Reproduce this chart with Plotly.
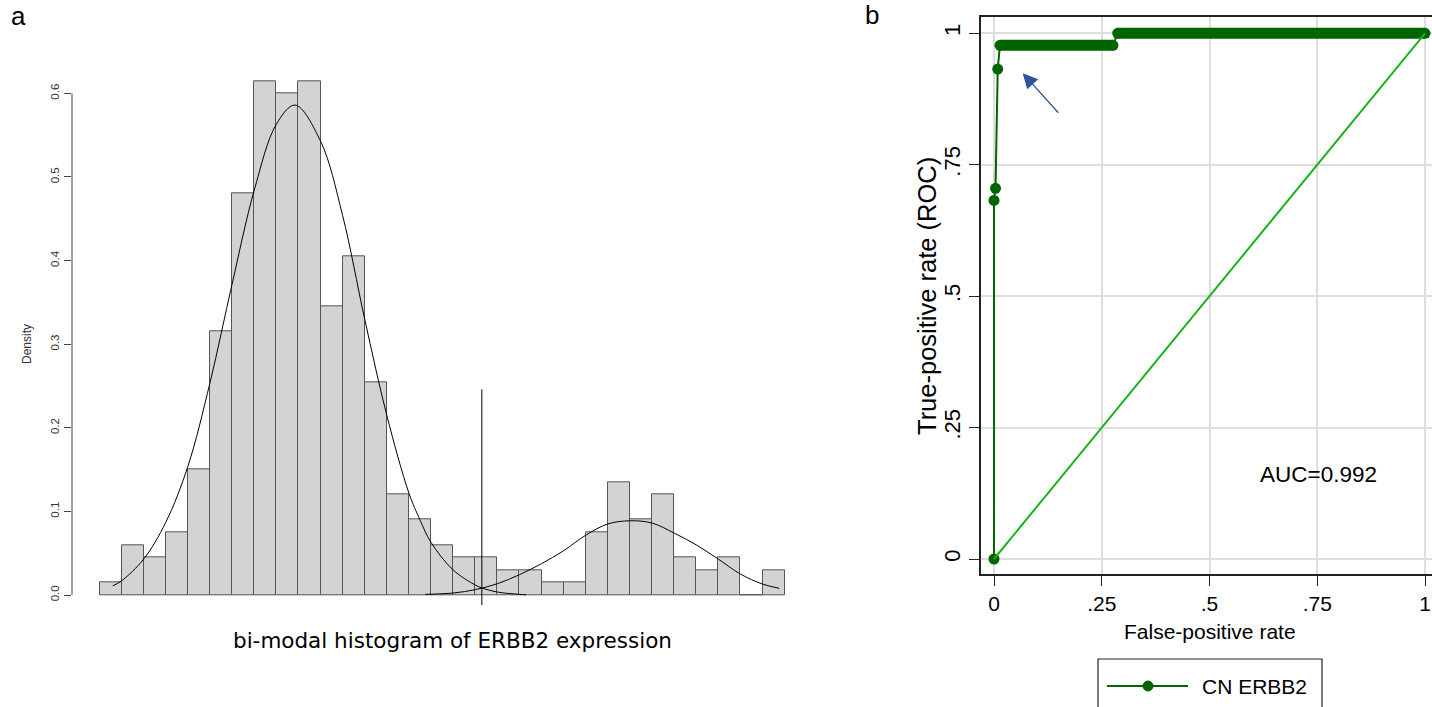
import plotly.graph_objects as go

W, H = 1432, 707

# ---------------- Panel a: histogram data (bins of equal width, indexed 0..30) ----------------
hist_bin_index = list(range(31))
hist_density = [0.015, 0.060, 0.045, 0.075, 0.150, 0.315, 0.480, 0.615, 0.600, 0.615,
                0.345, 0.405, 0.255, 0.120, 0.090, 0.060, 0.045, 0.045, 0.030, 0.030,
                0.015, 0.015, 0.075, 0.135, 0.090, 0.120, 0.045, 0.030, 0.045, 0.000,
                0.030]

# fitted curve of the low-expression mode (bin units)
curve1_x = [0.6, 1, 2, 3, 4, 5, 6, 7, 8, 8.85, 10, 11, 12, 13, 14, 14.5, 15, 16, 17, 17.3, 18, 19, 19.3]
curve1_y = [0.011, 0.017, 0.043, 0.087, 0.154, 0.254, 0.372, 0.484, 0.563, 0.586, 0.543, 0.454,
            0.330, 0.215, 0.122, 0.090, 0.063, 0.030, 0.012, 0.0085, 0.0036, 0.0008, 0.0003]

# fitted curve of the high-expression mode
curve2_x = [14.74, 16, 17, 18, 19, 20, 21, 22, 23, 24, 25, 26, 27, 28, 29, 30, 30.76]
curve2_y = [0.0008, 0.0024, 0.0064, 0.0135, 0.0243, 0.0375, 0.0530, 0.0715, 0.0850, 0.0888,
            0.0861, 0.0741, 0.0600, 0.0430, 0.0251, 0.0131, 0.0080]

# cut-off between the two modes
threshold_bin = 17.3
threshold_span = [-0.012, 0.246]

hist_ticks = [0.0, 0.1, 0.2, 0.3, 0.4, 0.5, 0.6]
hist_ticktext = ["0.0", "0.1", "0.2", "0.3", "0.4", "0.5", "0.6"]

# ---------------- Panel b: ROC data ----------------
roc_fpr = [0.0, 0.0, 0.0035, 0.0086, 0.0138, 0.276, 0.287, 1.0]
roc_tpr = [0.0, 0.682, 0.705, 0.932, 0.977, 0.977, 1.0, 1.0]
ref_line = [0.0, 1.0]
roc_ticks = [0, 0.25, 0.5, 0.75, 1]
roc_ticktext = ["0", ".25", ".5", ".75", "1"]
auc_text = "AUC=0.992"
legend_label = "CN ERBB2"

DKGREEN = "#006400"
LTGREEN = "#1cb21c"


def px(x):
    return x / W


def py(y):
    return 1 - y / H


fig = go.Figure()

# histogram bars
fig.add_trace(go.Bar(
    x=[i + 0.5 for i in hist_bin_index], y=hist_density, width=1,
    marker=dict(color="#d3d3d3", line=dict(color="#555555", width=1)),
    xaxis="x", yaxis="y", showlegend=False, hoverinfo="skip"))

for cx, cy in [(curve1_x, curve1_y), (curve2_x, curve2_y)]:
    fig.add_trace(go.Scatter(
        x=cx, y=cy, mode="lines", line=dict(color="black", width=1, shape="spline"),
        xaxis="x", yaxis="y", showlegend=False, hoverinfo="skip"))

fig.add_trace(go.Scatter(
    x=[threshold_bin, threshold_bin], y=threshold_span, mode="lines",
    line=dict(color="black", width=1), xaxis="x", yaxis="y",
    showlegend=False, hoverinfo="skip"))

# ROC: flat runs drawn thick (they are dense runs of overlapping markers in the original)
run_x, run_y = [], []
for i in range(len(roc_fpr) - 1):
    if roc_tpr[i] == roc_tpr[i + 1]:
        run_x += [roc_fpr[i], roc_fpr[i + 1], None]
        run_y += [roc_tpr[i], roc_tpr[i + 1], None]
fig.add_trace(go.Scatter(
    x=run_x, y=run_y, mode="lines", line=dict(color=DKGREEN, width=11),
    xaxis="x2", yaxis="y2", showlegend=False, hoverinfo="skip"))

fig.add_trace(go.Scatter(
    x=roc_fpr, y=roc_tpr, mode="lines+markers", name=legend_label,
    line=dict(color=DKGREEN, width=2), marker=dict(color=DKGREEN, size=11),
    xaxis="x2", yaxis="y2", showlegend=False, hoverinfo="skip"))

fig.add_trace(go.Scatter(
    x=ref_line, y=ref_line, mode="lines", line=dict(color=LTGREEN, width=2),
    xaxis="x2", yaxis="y2", showlegend=False, hoverinfo="skip"))

# histogram axis mapping: bins 22.1 px wide, first bin starts at x=99.5 px
bin_px = 22.1
bin0_px = 99.5
hx_left, hx_right = 72, 833
x_range = [(hx_left - bin0_px) / bin_px, (hx_right - bin0_px) / bin_px]

fig.update_layout(
    width=W, height=H,
    margin=dict(l=0, r=0, t=0, b=0, autoexpand=False),
    paper_bgcolor="white", plot_bgcolor="white",
    bargap=0,
    font=dict(family="Liberation Sans, Arial, sans-serif", color="black"),
    xaxis=dict(domain=[px(hx_left), px(hx_right)], range=x_range, visible=False),
    yaxis=dict(domain=[py(608.4), py(68.3)], range=[-0.016, 0.63],
               tickmode="array", tickvals=hist_ticks, ticktext=hist_ticktext,
               tickangle=-90, ticks="outside", ticklen=7, tickcolor="#444",
               tickfont=dict(size=11.5, color="#333"),
               showline=False, showgrid=False, zeroline=False),
    xaxis2=dict(domain=[px(981), 1.0], range=[-0.0302, 1.0162], anchor="y2",
                tickmode="array", tickvals=roc_ticks, ticktext=roc_ticktext,
                ticks="outside", ticklen=10, tickcolor="#222", tickwidth=1,
                tickfont=dict(size=21, color="black"),
                showline=True, linecolor="#222", linewidth=1.5, mirror=True,
                showgrid=True, gridcolor="#dedede", gridwidth=2, zeroline=False),
    yaxis2=dict(domain=[py(574.3), py(17.3)], range=[-0.0291, 1.0304], anchor="x2",
                tickmode="array", tickvals=roc_ticks, ticktext=roc_ticktext,
                tickangle=-90, ticks="outside", ticklen=10, tickcolor="#222", tickwidth=1,
                tickfont=dict(size=22, color="black"),
                showline=True, linecolor="#222", linewidth=1.5,
                showgrid=True, gridcolor="#dedede", gridwidth=2, zeroline=False),
)

shapes = [
    # left y-axis line of the histogram (only from 0 to 0.6)
    dict(type="line", xref="x domain", yref="y", x0=0, x1=0, y0=0, y1=0.6,
         line=dict(color="#444", width=1)),
    # legend box (extends below the bottom edge)
    dict(type="rect", xref="paper", yref="paper", x0=px(1098), x1=px(1322),
         y0=py(720), y1=py(659), line=dict(color="#222", width=1.2), fillcolor="white"),
    dict(type="line", xref="paper", yref="paper", x0=px(1107), x1=px(1188),
         y0=py(686), y1=py(686), line=dict(color=DKGREEN, width=2)),
    dict(type="circle", xref="paper", yref="paper", x0=px(1143), x1=px(1153),
         y0=py(691), y1=py(681), line=dict(color=DKGREEN, width=1), fillcolor=DKGREEN),
]
fig.update_layout(shapes=shapes)

annotations = [
    dict(text="a", xref="paper", yref="paper", x=px(18.5), y=py(16), xanchor="center",
         yanchor="middle", showarrow=False, font=dict(size=26)),
    dict(text="b", xref="paper", yref="paper", x=px(871.5), y=py(15), xanchor="center",
         yanchor="middle", showarrow=False, font=dict(size=26)),
    dict(text="Density", xref="paper", yref="paper", x=px(27), y=py(344), textangle=-90,
         xanchor="center", yanchor="middle", showarrow=False,
         font=dict(size=12, color="#333344")),
    dict(text="bi-modal histogram of ERBB2 expression", xref="paper", yref="paper",
         x=px(452.5), y=py(640), xanchor="center", yanchor="middle", showarrow=False,
         font=dict(size=21.5, family="DejaVu Sans, sans-serif")),
    dict(text="False-positive rate", xref="paper", yref="paper", x=px(1210), y=py(631),
         xanchor="center", yanchor="middle", showarrow=False, font=dict(size=21)),
    dict(text="True-positive rate (ROC)", xref="paper", yref="paper", x=px(927), y=py(296),
         textangle=-90, xanchor="center", yanchor="middle", showarrow=False,
         font=dict(size=25.5)),
    dict(text=auc_text, xref="x2", yref="y2", x=0.752, y=0.16, xanchor="center",
         yanchor="middle", showarrow=False, font=dict(size=22.5)),
    dict(text="", xref="x2", yref="y2", x=0.0666, y=0.924, ax=37, ay=41,
         showarrow=True, arrowhead=2, arrowsize=2.3, arrowwidth=1.3,
         arrowcolor="#2F5597"),
    dict(text=legend_label, xref="paper", yref="paper", x=px(1200), y=py(686),
         xanchor="left", yanchor="middle", showarrow=False, font=dict(size=21)),
]
fig.update_layout(annotations=annotations)

fig.write_html(
    "out.html",
    config={"displayModeBar": False},
    post_script="document.body.style.margin='0px';document.body.style.padding='0px';"
                "document.body.style.overflow='hidden';",
)
